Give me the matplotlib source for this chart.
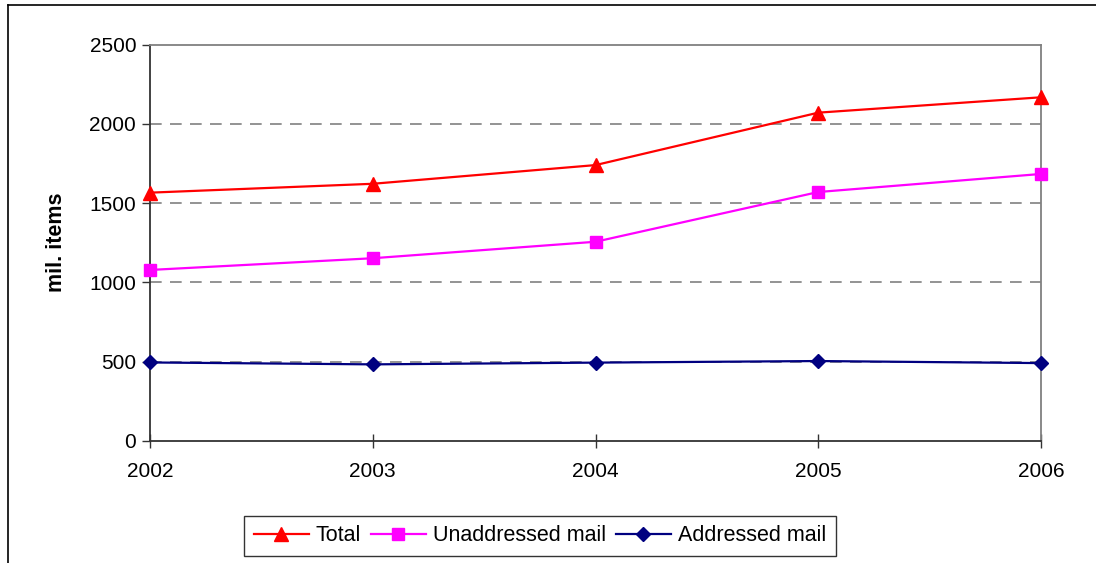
import matplotlib.pyplot as plt
from matplotlib.lines import Line2D

plt.rcParams['font.family'] = ['Liberation Sans', 'DejaVu Sans']

years = [2002, 2003, 2004, 2005, 2006]
total = [1566, 1622, 1740, 2071, 2168]
unaddressed = [1078, 1152, 1256, 1570, 1684]
addressed = [494, 482, 493, 503, 490]
y_ticks = [0, 500, 1000, 1500, 2000, 2500]

fig = plt.figure(figsize=(10.96, 5.63), dpi=100)
ax = fig.add_axes([0.1369, 0.2172, 0.8129, 0.7034])

# horizontal dashed grid, drawn under the series
for v in y_ticks[1:-1]:
    ax.axhline(v, color='#808080', lw=1.2, dashes=(7, 5), zorder=1)

ax.plot(years, total, color='#FF0000', lw=1.6, marker='^', ms=10,
        label='Total', zorder=3, clip_on=False)
ax.plot(years, unaddressed, color='#FF00FF', lw=1.6, marker='s', ms=8,
        label='Unaddressed mail', zorder=3, clip_on=False)
ax.plot(years, addressed, color='#000080', lw=1.6, marker='D', ms=7.5,
        label='Addressed mail', zorder=3, clip_on=False)

ax.set_xlim(2002, 2006)
ax.set_ylim(0, 2500)
ax.set_xticks(years)
ax.set_yticks(y_ticks)
ax.tick_params(axis='both', labelsize=15, colors='black')
ax.tick_params(axis='x', direction='inout', length=10, width=1, pad=10, color='#333333')
ax.tick_params(axis='y', direction='out', length=6, width=1, pad=4, color='#333333')

for s in ['left', 'bottom']:
    ax.spines[s].set_color('#333333')
    ax.spines[s].set_linewidth(1.3)
for s in ['top', 'right']:
    ax.spines[s].set_color('#808080')
    ax.spines[s].set_linewidth(1.3)

ax.set_ylabel('mil. items', fontsize=15.5, fontweight='bold')
ax.yaxis.set_label_coords(-0.093, 0.5)

leg = fig.legend(loc='center', bbox_to_anchor=(0.4927, 0.048), ncol=3,
                 fontsize=15.5, frameon=True, fancybox=False, handlelength=2.55,
                 columnspacing=0.45, handletextpad=0.33, borderpad=0.45,
                 borderaxespad=0)
leg.get_frame().set_edgecolor('black')
leg.get_frame().set_linewidth(1)

# outer chart border (left and top edges visible)
fig.add_artist(Line2D([8 / 1096, 8 / 1096], [0, 1 - 5 / 563], color='black', lw=1.2))
fig.add_artist(Line2D([8 / 1096, 1], [1 - 5 / 563, 1 - 5 / 563], color='black', lw=1.2))

fig.savefig('out.png', dpi=100)
